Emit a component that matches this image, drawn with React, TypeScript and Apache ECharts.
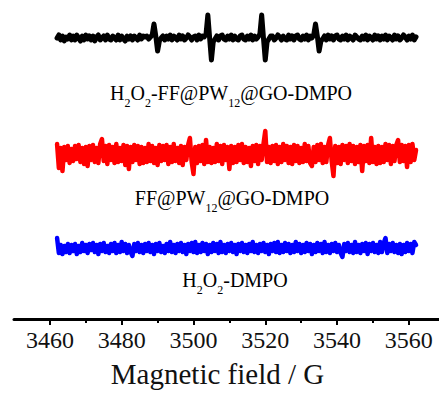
import React, { useEffect, useRef } from "react";
import * as echarts from "echarts";

// Magnetic field sweep 3462–3562 G, 0.5 G steps (201 points)
const fieldStart = 3462;
const fieldStep = 0.5;

const axisMin = 3450;
const axisMax = 3568.4;
const majorTicks = [3460, 3480, 3500, 3520, 3540, 3560];
const minorTicks = [3470, 3490, 3510, 3530, 3550];

const seriesNames = ["H2O2-FF@PW12@GO-DMPO", "FF@PW12@GO-DMPO", "H2O2-DMPO"];
const seriesColors = ["#000000", "#ff0000", "#0000ff"];
const seriesOffsets = [281, 165, 71];
const seriesWidths = [5, 4.5, 4.5];

// H2O2-FF@PW12@GO-DMPO (DMPO-OH quartet 1:2:2:1)
const blackSignal = [
  0, 3, -2, 2, -3, 1, -1, 3, -2, 2,
  -2, 3, 0, -3, 2, -2, 3, -1, 2, -2,
  2, -3, 1, 3, -2, 0, 2, -2, 3, -1,
  -2, 2, 0, -2, 3, -2, 2, -1, -3, 2,
  -1, 2, -2, 2, 0, -2, 3, -1, 2, 1,
  2, -1, 1, 3, 14, 2, -13, -3, 0, 2,
  -2, 2, -1, 3, -2, 2, 0, -2, 3, -1,
  2, -2, 0, 3, 1, -2, 1, 2, -2, 3,
  -1, 2, 1, 4, 23, 0, -22, -4, -1, 2,
  -2, 2, 3, -1, -2, 2, -1, 3, -2, 2,
  -1, -2, 2, 3, -1, -2, 2, -1, 3, -2,
  2, -1, 1, 4, 23, 0, -22, -4, -1, 2,
  2, -2, 0, 3, 1, -2, 2, -1, -2, 3,
  -1, 2, -2, 2, 3, -1, -2, 2, -1, 3,
  -2, 2, 0, 3, 14, 2, -13, -3, -1, 2,
  -2, 3, -1, 2, -2, 2, 3, -1, -2, 2,
  -1, 3, -2, 2, 0, -2, 3, 1, -1, -2,
  2, -1, 3, -2, 2, 0, -2, 3, -1, 2,
  -2, 2, -1, 3, -2, 2, 0, -2, 3, -1,
  2, -2, 0, 3, 1, -2, 2, -1, 3, -2,
  1,
];

// FF@PW12@GO-DMPO
const redSignal = [
  10, -14, 6, -17, 7, -6, 8, -9, 5, -7,
  8, -5, 9, -8, 6, -10, 7, -12, 8, -6,
  9, -8, 6, -9, 10, 15, -7, 8, -10, 9,
  -6, 7, -9, 10, -8, 6, -7, 9, -11, 8,
  -15, 7, -8, 9, -6, 8, -10, 7, -9, 6,
  -8, 10, -7, 8, -9, 6, -11, 9, -7, 8,
  -6, 9, -10, 7, -8, 10, -7, 6, -9, 8,
  -11, 7, -6, 9, 16, -8, -20, 7, -9, 8,
  -7, 9, -10, 14, -8, 7, -9, 6, -8, 10,
  -7, 8, -10, 9, -6, 7, -15, 8, -9, 7,
  -8, 9, -6, 10, -9, 7, -8, 6, -12, 8,
  -7, 9, -10, 8, -6, 10, 23, -8, 7, -9,
  8, -7, 9, -10, 7, -8, 10, -6, 8, -9,
  7, -10, 9, -7, 8, -9, 6, -8, 10, -7,
  8, -9, -12, 7, -8, 9, -6, 10, -9, 7,
  -8, 9, 16, -7, -22, 8, -9, 7, -10, 9,
  -6, 8, -9, 10, -7, 8, -10, 7, -8, 9,
  -17, 8, -7, 9, -9, 16, -8, 7, -10, 8,
  -9, 7, -8, 10, -6, 9, -10, 8, -7, 9,
  14, -8, 9, -7, 8, -13, 9, -8, 10, -6,
  4,
];

// H2O2-DMPO
const blueSignal = [
  10, -5, 3, -6, 2, -4, 4, -5, 3, -3,
  4, -6, 2, -4, 5, -3, 3, -5, 4, -2,
  5, -4, 3, -6, 4, -3, 5, -4, 2, -5,
  4, -3, 5, -5, 3, -4, 6, -3, 4, -5,
  3, -4, -8, 4, -3, 5, -4, 3, -5, 4,
  -3, 5, -4, 3, -6, 4, -3, 5, -4, 2,
  -5, 4, -3, 6, -4, 3, -5, 4, -3, 5,
  -4, 3, -6, 4, -3, 5, -4, 6, -5, 3,
  -4, 5, -3, 4, -6, 3, -4, 5, -3, 4,
  -5, 6, -4, 3, -5, 4, -3, 5, -4, 3,
  -6, 4, -3, 5, -4, 3, -5, 4, -3, 6,
  -4, 3, -5, 4, -3, 5, -4, 3, -6, 4,
  -3, 5, -4, 6, -5, 3, -4, 5, -3, 4,
  -5, 3, -4, 6, -3, 4, -5, 3, -4, 5,
  -3, 4, -6, 3, -4, 5, -3, 4, -5, 6,
  -4, 3, -5, 4, -3, 5, -4, 3, -5, -9,
  4, -3, 5, -4, 3, -5, 6, -4, 3, -5,
  4, -3, 5, -6, 4, -3, 5, -4, 3, -5,
  6, -4, 5, 10, -5, 4, -3, 5, -4, 3,
  -5, 4, -6, 3, -4, 5, -3, 4, -5, 6,
  3,
];

const signals = [blackSignal, redSignal, blueSignal];

const FONT = "Liberation Serif";

const labelTexts = [
  "{m|H}{s|2}{m|O}{s|2}{m|-FF@PW}{s|12}{m|@GO-DMPO}",
  "{m|FF@PW}{s|12}{m|@GO-DMPO}",
  "{m|H}{s|2}{m|O}{s|2}{m|-DMPO}",
];

const labelPos = [
  [231, 93],
  [232, 198],
  [235, 280],
];

export default function App() {
  const ref = useRef<HTMLDivElement>(null);

  useEffect(() => {
    if (!ref.current) return;
    const chart = echarts.init(ref.current, null, { renderer: "svg" });

    const series = signals.map((sig, k) => ({
      name: seriesNames[k],
      type: "line",
      xAxisIndex: 0,
      showSymbol: false,
      symbol: "none",
      data: sig.map((v, i) => [fieldStart + i * fieldStep, seriesOffsets[k] + v]),
      lineStyle: { color: seriesColors[k], width: seriesWidths[k], cap: "round", join: "round" },
      itemStyle: { color: seriesColors[k] },
      z: 3,
    }));

    const rich = {
      m: { fontSize: 20, fontFamily: FONT, color: "#111", lineHeight: 32 },
      s: { fontSize: 12, fontFamily: FONT, color: "#111", verticalAlign: "bottom" },
    };

    chart.setOption({
      animation: false,
      backgroundColor: "#ffffff",
      textStyle: { fontFamily: FONT },
      grid: { left: 14, right: 0, top: 0, bottom: 75, containLabel: false },
      xAxis: [
        {
          type: "value",
          min: axisMin,
          max: axisMax,
          position: "bottom",
          axisLine: { show: true, lineStyle: { color: "#000", width: 3 } },
          axisTick: {
            show: true,
            customValues: majorTicks,
            length: 6,
            lineStyle: { color: "#000", width: 2 },
          },
          axisLabel: {
            customValues: majorTicks,
            formatter: (v: number) => String(v),
            fontSize: 24,
            fontFamily: FONT,
            color: "#111",
            margin: 9,
          },
          splitLine: { show: false },
          name: "Magnetic field / G",
          nameLocation: "middle",
          nameGap: 40,
          nameTextStyle: {
            fontSize: 29,
            fontFamily: FONT,
            color: "#111",
            padding: [0, 18, 0, 0],
          },
        },
        {
          type: "value",
          min: axisMin,
          max: axisMax,
          position: "bottom",
          axisLine: { show: false },
          axisTick: {
            show: true,
            customValues: minorTicks,
            length: 4,
            lineStyle: { color: "#000", width: 2 },
          },
          axisLabel: { show: false },
          splitLine: { show: false },
        },
      ],
      yAxis: { type: "value", min: 0, max: 319, show: false },
      series,
      graphic: labelTexts.map((t, k) => ({
        type: "text",
        x: labelPos[k][0],
        y: labelPos[k][1],
        style: {
          text: t,
          rich,
          align: "center",
          verticalAlign: "middle",
        },
      })),
    });

    return () => chart.dispose();
  }, []);

  return (
    <div
      ref={ref}
      style={{ position: "absolute", left: 0, top: 0, width: 439, height: 394, background: "#fff" }}
    />
  );
}
